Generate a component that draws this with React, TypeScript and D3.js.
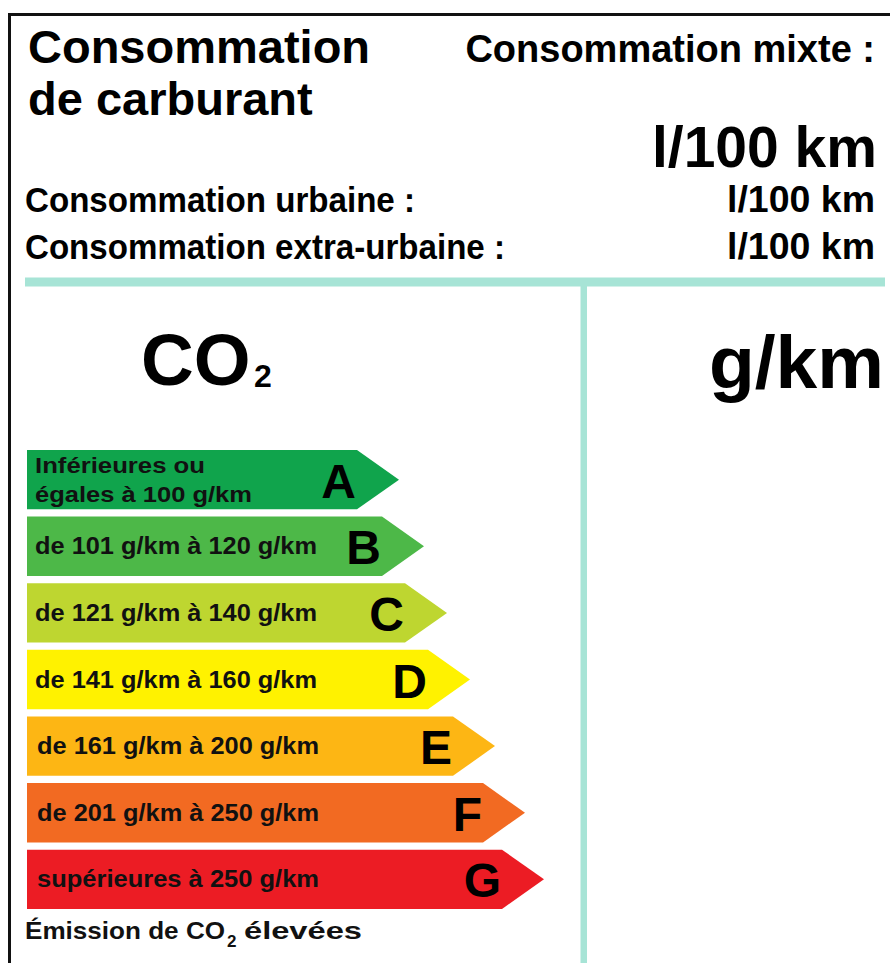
import React from "react";
import * as d3 from "d3";

const ratings = ["A", "B", "C", "D", "E", "F", "G"];
const bandColors = ["#10a44c", "#4db848", "#bed630", "#fff200", "#fdb614", "#f26a22", "#ec1c24"];
// bar body lengths (rect part), in px units from the left edge of bars
const bodyLengths = [330, 355, 378, 401, 426, 456, 475];
const bandLabels = [
  ["Inférieures ou", "égales à 100 g/km"],
  ["de 101 g/km à 120 g/km"],
  ["de 121 g/km à 140 g/km"],
  ["de 141 g/km à 160 g/km"],
  ["de 161 g/km à 200 g/km"],
  ["de 201 g/km à 250 g/km"],
  ["supérieures à 250 g/km"],
];
const headerLeft = ["Consommation", "de carburant"];
const headerRight = "Consommation mixte :";
const unitBig = "l/100 km";
const subRows = ["Consommation urbaine :", "Consommation extra-urbaine :"];
const subRowWidths = [390, 480];
const unitSmall = "l/100 km";
const footerParts = ["Émission de CO", "2", "élevées"];

const FONT = "'Liberation Sans', Arial, Helvetica, sans-serif";
const TEAL = "#a7e4d6";

export default function App() {
  const W = 890;
  const H = 963;
  const y = d3.scaleBand<string>().domain(ratings).range([450, 909]).paddingInner(0.11).paddingOuter(0);
  const x = d3.scaleLinear().domain([0, 500]).range([27, 527]);
  const tipLen = 42;

  return (
    <svg
      width={W}
      height={H}
      viewBox={`0 0 ${W} ${H}`}
      style={{ position: "absolute", left: 0, top: 0, background: "#fff" }}
      fontFamily={FONT}
      fontWeight="bold"
    >
      <rect x={0} y={0} width={W} height={H} fill="#fff" />
      {/* frame */}
      <line x1={8} x2={W} y1={14.5} y2={14.5} stroke="#111" strokeWidth={3} />
      <line x1={9.5} x2={9.5} y1={13} y2={H} stroke="#111" strokeWidth={3} />

      {/* header */}
      {headerLeft.map((t, i) => (
        <text key={t} x={28} y={63 + i * 52} fontSize={47} fill="#000">
          {t}
        </text>
      ))}
      <text x={875} y={62} fontSize={38} textAnchor="end" fill="#000">
        {headerRight}
      </text>
      <text x={877} y={167} fontSize={57} textAnchor="end" fill="#000">
        {unitBig}
      </text>
      {subRows.map((t, i) => (
        <g key={t}>
          <text
            x={25}
            y={212 + i * 47}
            fontSize={35}
            fill="#000"
            textLength={subRowWidths[i]}
            lengthAdjust="spacingAndGlyphs"
          >
            {t}
          </text>
          <text
            x={875}
            y={212 + i * 47}
            fontSize={36}
            textAnchor="end"
            fill="#000"
            textLength={148}
            lengthAdjust="spacingAndGlyphs"
          >
            {unitSmall}
          </text>
        </g>
      ))}

      {/* teal separators */}
      <rect x={25} y={277.5} width={860} height={9} fill={TEAL} />
      <rect x={580.5} y={282} width={6.5} height={H - 282} fill={TEAL} />

      {/* CO2 and g/km */}
      <text x={141} y={385} fontSize={73} fill="#000">
        CO
      </text>
      <text x={254} y={387} fontSize={32} fill="#000">
        2
      </text>
      <text x={884} y={388} fontSize={75} textAnchor="end" fill="#000">
        g/km
      </text>

      {/* rating arrows */}
      {ratings.map((r, i) => {
        const top = y(r)!;
        const bw = y.bandwidth();
        const x0 = x(0);
        const x1 = x(bodyLengths[i]);
        const cy = top + bw / 2;
        const p = d3.path();
        p.moveTo(x0, top);
        p.lineTo(x1, top);
        p.lineTo(x1 + tipLen, cy);
        p.lineTo(x1, top + bw);
        p.lineTo(x0, top + bw);
        p.closePath();
        const lines = bandLabels[i];
        return (
          <g key={r}>
            <path d={p.toString()} fill={bandColors[i]} />
            {lines.length === 2 ? (
              <>
                <text x={35} y={top + 23} fontSize={22} fill="#111" textLength={170} lengthAdjust="spacingAndGlyphs">
                  {lines[0]}
                </text>
                <text x={35} y={top + 52} fontSize={22} fill="#111" textLength={217} lengthAdjust="spacingAndGlyphs">
                  {lines[1]}
                </text>
              </>
            ) : (
              <text
                x={i >= 4 ? 37 : 35}
                y={cy + 8}
                fontSize={23}
                fill="#111"
                textLength={282}
                lengthAdjust="spacingAndGlyphs"
              >
                {lines[0]}
              </text>
            )}
            <text x={x1 - 1} y={cy + 18} fontSize={48} textAnchor="end" fill="#000">
              {r}
            </text>
          </g>
        );
      })}

      {/* footer */}
      <text x={25} y={939} fontSize={24} fill="#111" textLength={200} lengthAdjust="spacingAndGlyphs">
        {footerParts[0]}
      </text>
      <text x={227} y={947} fontSize={17} fill="#111">
        {footerParts[1]}
      </text>
      <text x={244} y={939} fontSize={24} fill="#111" textLength={118} lengthAdjust="spacingAndGlyphs">
        {footerParts[2]}
      </text>
    </svg>
  );
}
